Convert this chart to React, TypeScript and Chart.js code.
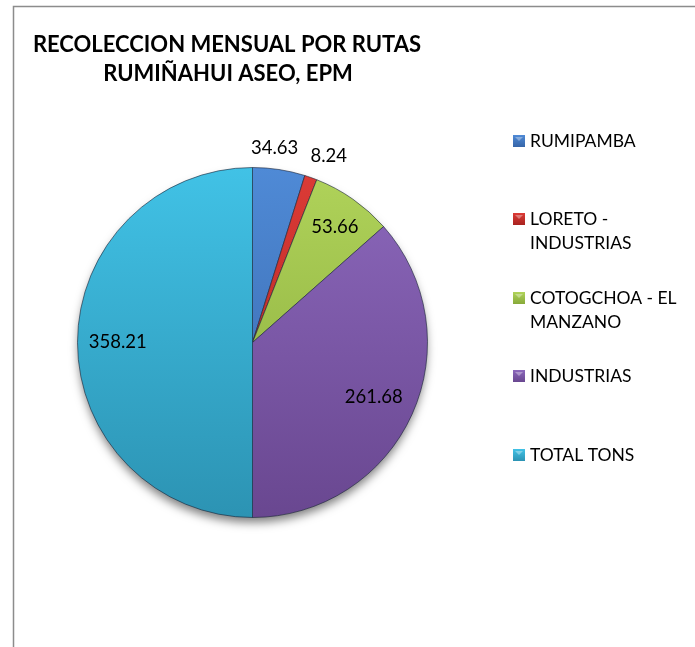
import React, { useEffect, useRef } from "react";
import { Chart, registerables } from "chart.js";

Chart.register(...registerables);

const titleLines = ["RECOLECCION MENSUAL POR RUTAS", "RUMIÑAHUI ASEO, EPM"];
const categories = ["RUMIPAMBA", "LORETO - INDUSTRIAS", "COTOGCHOA - EL MANZANO", "INDUSTRIAS", "TOTAL TONS"];
const legendLines = [["RUMIPAMBA"], ["LORETO -", "INDUSTRIAS"], ["COTOGCHOA - EL", "MANZANO"], ["INDUSTRIAS"], ["TOTAL TONS"]];
const values = [34.63, 8.24, 53.66, 261.68, 358.21];
const valueLabels = ["34.63", "8.24", "53.66", "261.68", "358.21"];

const topColors = ["#4f8ad6", "#dc3b36", "#b0d35a", "#8c68bc", "#41c2e6"];
const bottomColors = ["#3665a8", "#a8231f", "#87a93a", "#694790", "#2c93b3"];
const flatColors = ["#4178c4", "#c8302c", "#9bc046", "#7b59a6", "#36abcf"];

// label placement (fraction of radius, angle offset in degrees)
const labelRadius = [1.12, 1.15, 0.81, 0.76, 0.77];
const labelAngleOffset = [-2.2, 2.8, 0.5, 0, 0];
const legendY = [141, 219, 298, 376, 455];

const FONT = "Lato, 'Open Sans', sans-serif";

export default function App() {
  const ref = useRef<HTMLCanvasElement | null>(null);
  useEffect(() => {
    const canvas = ref.current;
    if (!canvas) return;

    const decorPlugin = {
      id: "decor",
      beforeDraw(chart: any) {
        const ctx = chart.ctx;
        ctx.save();
        ctx.fillStyle = "#ffffff";
        ctx.fillRect(0, 0, chart.width, chart.height);
        ctx.strokeStyle = "#8c8c8c";
        ctx.lineWidth = 1.5;
        ctx.strokeRect(13.5, 6.5, chart.width + 10, chart.height + 10);
        // title
        ctx.fillStyle = "#000000";
        ctx.font = `bold 22px ${FONT}`;
        ctx.textAlign = "center";
        ctx.textBaseline = "middle";
        ctx.fillText(titleLines[0], 227, 45);
        ctx.fillText(titleLines[1], 228, 74);
        // legend
        ctx.font = `17.5px ${FONT}`;
        ctx.textAlign = "left";
        legendLines.forEach((lines, i) => {
          const y = legendY[i];
          const g = ctx.createLinearGradient(0, y - 6, 0, y + 6);
          g.addColorStop(0, topColors[i]);
          g.addColorStop(1, bottomColors[i]);
          ctx.fillStyle = g;
          ctx.fillRect(513, y - 6, 12, 12);
          ctx.fillStyle = "rgba(255,255,255,0.35)";
          ctx.beginPath();
          ctx.moveTo(515, y - 4);
          ctx.lineTo(523, y - 4);
          ctx.lineTo(519, y);
          ctx.closePath();
          ctx.fill();
          ctx.fillStyle = "#000000";
          lines.forEach((t, j) => ctx.fillText(t, 530, y + j * 24));
        });
        ctx.restore();
      },
      beforeDatasetsDraw(chart: any) {
        const arc = chart.getDatasetMeta(0).data[0];
        if (!arc) return;
        const ctx = chart.ctx;
        ctx.save();
        ctx.shadowColor = "rgba(0,0,0,0.5)";
        ctx.shadowBlur = 10;
        ctx.shadowOffsetY = 6;
        ctx.fillStyle = "#ffffff";
        ctx.beginPath();
        ctx.arc(arc.x, arc.y, arc.outerRadius - 1, 0, Math.PI * 2);
        ctx.fill();
        ctx.restore();
      },
      afterDatasetsDraw(chart: any) {
        const ctx = chart.ctx;
        const meta = chart.getDatasetMeta(0);
        ctx.save();
        ctx.font = `18.5px ${FONT}`;
        ctx.fillStyle = "#000000";
        ctx.textAlign = "center";
        ctx.textBaseline = "middle";
        meta.data.forEach((a: any, i: number) => {
          const mid = (a.startAngle + a.endAngle) / 2 + (labelAngleOffset[i] * Math.PI) / 180;
          const r = a.outerRadius * labelRadius[i];
          ctx.fillText(valueLabels[i], a.x + Math.cos(mid) * r, a.y + Math.sin(mid) * r);
        });
        ctx.restore();
      },
    };

    const chart = new Chart(canvas, {
      type: "pie",
      data: {
        labels: categories,
        datasets: [
          {
            data: values,
            backgroundColor: (c: any) => {
              const area = c.chart.chartArea;
              if (!area) return flatColors[c.dataIndex];
              const g = c.chart.ctx.createLinearGradient(0, area.top, 0, area.bottom);
              g.addColorStop(0, topColors[c.dataIndex]);
              g.addColorStop(1, bottomColors[c.dataIndex]);
              return g;
            },
            borderColor: "rgba(25,35,55,0.6)",
            borderWidth: 1,
          },
        ],
      },
      options: {
        responsive: false,
        animation: false,
        layout: { padding: { left: 77, right: 267, top: 167, bottom: 129 } },
        plugins: {
          legend: { display: false },
          title: { display: false },
          tooltip: { enabled: false },
        },
      },
      plugins: [decorPlugin],
    });
    return () => chart.destroy();
  }, []);

  return (
    <div style={{ position: "absolute", left: 0, top: 0, width: 695, height: 647 }}>
      <canvas ref={ref} width={695} height={647} style={{ width: 695, height: 647, display: "block" }} />
    </div>
  );
}
